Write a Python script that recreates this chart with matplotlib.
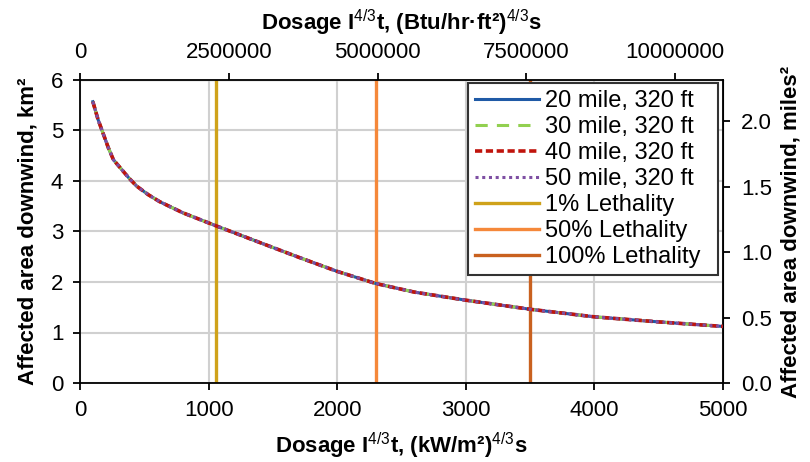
import matplotlib
matplotlib.use("Agg")
import matplotlib.pyplot as plt

plt.rcParams['font.family'] = ['Liberation Sans', 'DejaVu Sans']
plt.rcParams['mathtext.fontset'] = 'custom'
plt.rcParams['mathtext.rm'] = 'Liberation Sans'
plt.rcParams['mathtext.bf'] = 'Liberation Sans:bold'

# dosage (kW/m2)^4/3 s and affected area km2 (all four cases overlap)
dosage = [100, 140, 180, 220, 260, 320, 380, 440, 530, 620, 800, 1060, 1400,
          1700, 2000, 2300, 2600, 3000, 3500, 4000, 4500, 5000]
area = [5.57, 5.22, 4.94, 4.66, 4.42, 4.24, 4.06, 3.90, 3.73, 3.59, 3.37, 3.11, 2.78,
        2.49, 2.21, 1.97, 1.80, 1.64, 1.46, 1.31, 1.21, 1.12]

series_labels = ["20 mile, 320 ft", "30 mile, 320 ft", "40 mile, 320 ft", "50 mile, 320 ft"]
lethality_labels = ["1% Lethality", "50% Lethality", "100% Lethality"]
lethality_dose = [1060, 2300, 3500]

K = 2161.0       # (kW/m2)^4/3 -> (Btu/hr ft2)^4/3
KM2_PER_MI2 = 2.59

fig = plt.figure(figsize=(8.1, 4.62), dpi=100)
ax = fig.add_axes([80/810, 1-383/462, 643/810, 303/462])

styles = [
    dict(color='#1F5AA6', lw=2.2, ls='-'),
    dict(color='#92D050', lw=2.2, ls=(0, (4, 3))),
    dict(color='#C0140C', lw=2.6, ls=(0, (2, 1))),
    dict(color='#7E4FA3', lw=2.2, ls=(0, (1, 1.2))),
]
for lab, st in zip(series_labels, styles):
    ax.plot(dosage, area, label=lab, zorder=3, solid_joinstyle='round', **st)

leth_colors = ['#CFA21A', '#F5883A', '#C9611F']
for lab, xv, c in zip(lethality_labels, lethality_dose, leth_colors):
    ax.axvline(xv, color=c, lw=2.4, label=lab, zorder=2)

ax.set_xlim(0, 5000)
ax.set_ylim(0, 6)
ax.set_xticks(range(0, 5001, 1000))
ax.set_yticks(range(0, 7))
ax.grid(True, color='#D0D0D0', lw=1.5, zorder=0)
ax.set_axisbelow(True)
for s in ax.spines.values():
    s.set_linewidth(1.3)
ax.tick_params(labelsize=16, length=5, width=1.3, pad=7)

ax.set_xlabel(r"Dosage I$^{\mathrm{4/3}}$t, (kW/m²)$^{\mathrm{4/3}}$s",
              fontsize=16, fontweight='bold', labelpad=7)
ax.set_ylabel("Affected area downwind, km²", fontsize=16, fontweight='bold', labelpad=9)

top = ax.secondary_xaxis('top', functions=(lambda x: x * K, lambda x: x / K))
top.set_xticks([0, 2500000, 5000000, 7500000, 10000000])
top.set_xticklabels(['0', '2500000', '5000000', '7500000', '10000000'])
top.tick_params(labelsize=16, length=5, width=1.3, pad=7)
top.set_xlabel(r"Dosage I$^{\mathrm{4/3}}$t, (Btu/hr·ft²)$^{\mathrm{4/3}}$s",
               fontsize=16, fontweight='bold', labelpad=9)

right = ax.secondary_yaxis('right', functions=(lambda y: y / KM2_PER_MI2,
                                               lambda y: y * KM2_PER_MI2))
right.set_yticks([0.0, 0.5, 1.0, 1.5, 2.0])
right.set_yticklabels(['0.0', '0.5', '1.0', '1.5', '2.0'])
right.tick_params(labelsize=16, length=5, width=1.3, pad=8)
right.set_ylabel("Affected area downwind, miles²", fontsize=16, fontweight='bold', labelpad=6)

leg = ax.legend(loc='upper left', bbox_to_anchor=(388/643, 0.0, 250/643, 300/303),
                mode='expand', fontsize=17, frameon=True, fancybox=False,
                edgecolor='#333333', framealpha=1, borderpad=0.3, labelspacing=0.17,
                handlelength=2.7, handletextpad=0.25, borderaxespad=0.0)
leg.get_frame().set_linewidth(1.5)

fig.savefig("out.png", dpi=100)
